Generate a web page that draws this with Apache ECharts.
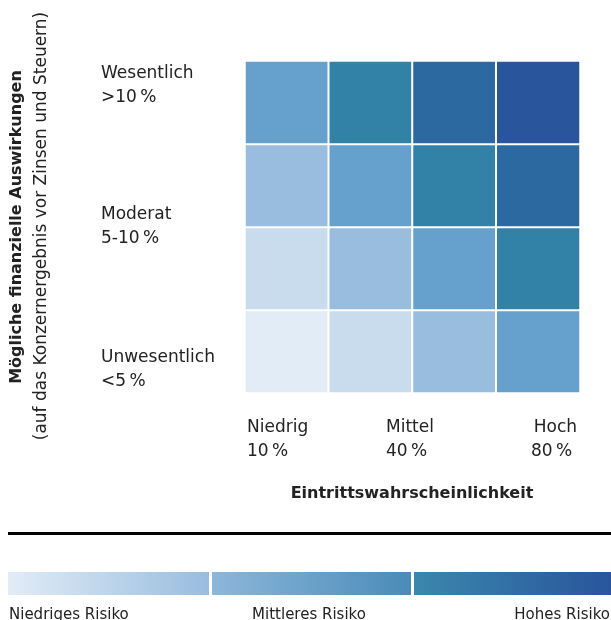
<!DOCTYPE html>
<html>
<head>
<meta charset="utf-8">
<script src="https://cdn.jsdelivr.net/npm/echarts@6/dist/echarts.min.js"></script>
<style>html,body{margin:0;padding:0;background:#fff}#c{width:611px;height:620px}</style>
</head>
<body>
<div id="c"></div>
<script>
// Data
var xCategories = ['0', '1', '2', '3'];
var yCategories = ['0', '1', '2', '3'];
// risk level per cell: [col, row, level]  (row 0 = bottom)
var cellValues = [
  [0,0,0],[1,0,1],[2,0,2],[3,0,3],
  [0,1,1],[1,1,2],[2,1,3],[3,1,4],
  [0,2,2],[1,2,3],[2,2,4],[3,2,5],
  [0,3,3],[1,3,4],[2,3,5],[3,3,6]
];
var levelColors = ['#e2ecf6','#c9dcee','#98bddf','#65a1cc','#3282a8','#2d69a1','#29559c'];
var xTickNames = ['Niedrig', 'Mittel', 'Hoch'];
var xTickPercents = ['10\u202F%', '40\u202F%', '80\u202F%'];
var yTickNames = ['Wesentlich', 'Moderat', 'Unwesentlich'];
var yTickPercents = ['>10\u202F%', '5-10\u202F%', '<5\u202F%'];
var legendLabels = ['Niedriges Risiko', 'Mittleres Risiko', 'Hohes Risiko'];
var legendGradients = [
  ['#e2ecf6', '#98bddf'],
  ['#8cb7db', '#4a8bb7'],
  ['#3a88ad', '#29559c']
];

var FONT = '"DejaVu Sans", sans-serif';
var TXT = '#222';
var chart = echarts.init(document.getElementById('c'));

var graphics = [];
function txt(x, y, s, opt) {
  opt = opt || {};
  graphics.push({
    type: 'text', x: x, y: y, rotation: opt.rotation || 0,
    style: {
      text: s, fill: TXT, font: (opt.weight || 'normal') + ' ' + (opt.size || 17) + 'px ' + FONT,
      textAlign: opt.align || 'left', textVerticalAlign: opt.valign || 'middle'
    }
  });
}
// y-axis tick labels
var yLabelY = [74, 215, 358];
yTickNames.forEach(function (n, i) {
  txt(101, yLabelY[i], n);
  txt(101, yLabelY[i] + 24, yTickPercents[i]);
});
// x-axis tick labels
var xLabelX = [247, 386, 577];
var xAlign = ['left', 'left', 'right'];
xTickNames.forEach(function (n, i) {
  txt(xLabelX[i], 428, n, {align: xAlign[i]});
  txt(xLabelX[i] - (i === 2 ? 46 : 0), 452, xTickPercents[i]);
});
// axis titles
txt(412, 494, 'Eintrittswahrscheinlichkeit', {weight: 'bold', size: 16, align: 'center'});
txt(17, 227, 'Mögliche finanzielle Auswirkungen', {weight: 'bold', size: 16, align: 'center', rotation: Math.PI / 2});
txt(42, 226, '(auf das Konzernergebnis vor Zinsen und Steuern)', {size: 17, align: 'center', rotation: Math.PI / 2});
// separator
graphics.push({type: 'rect', shape: {x: 8, y: 532, width: 603, height: 3}, style: {fill: '#000'}});
// legend bars
var segX = [8, 212, 414], segW = [201, 199, 197];
legendGradients.forEach(function (g, i) {
  graphics.push({
    type: 'rect', shape: {x: segX[i], y: 572, width: segW[i], height: 23},
    style: {fill: new echarts.graphic.LinearGradient(0, 0, 1, 0, [{offset: 0, color: g[0]}, {offset: 1, color: g[1]}])}
  });
});
txt(9, 615, legendLabels[0], {size: 15});
txt(309, 615, legendLabels[1], {size: 15, align: 'center'});
txt(610, 615, legendLabels[2], {size: 15, align: 'right'});

chart.setOption({
  animation: false,
  grid: {left: 245, right: 31, top: 61, bottom: 227},
  xAxis: {type: 'category', data: xCategories, show: false},
  yAxis: {type: 'category', data: yCategories, show: false},
  visualMap: {
    show: false, type: 'piecewise', dimension: 2,
    pieces: levelColors.map(function (c, i) { return {value: i, color: c}; })
  },
  series: [{
    type: 'heatmap', data: cellValues,
    itemStyle: {borderColor: '#fff', borderWidth: 2},
    emphasis: {disabled: true}
  }],
  graphic: graphics
});
</script>
</body>
</html>
